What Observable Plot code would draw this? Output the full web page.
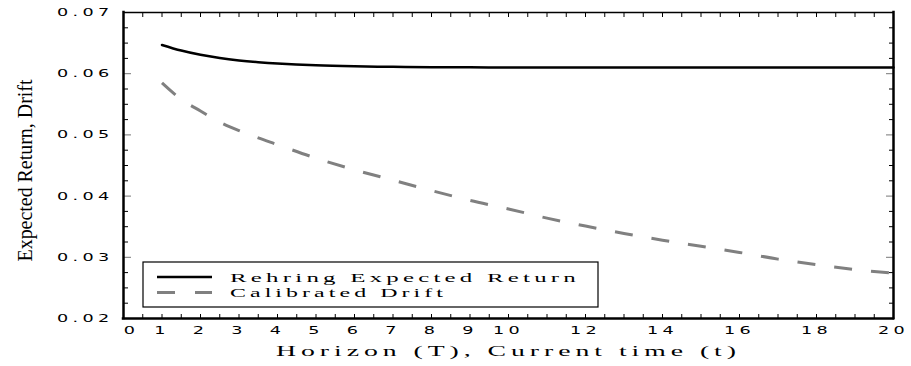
<!DOCTYPE html>
<html><head><meta charset="utf-8">
<script src="https://cdn.jsdelivr.net/npm/d3@7"></script>
<script src="https://cdn.jsdelivr.net/npm/@observablehq/plot@0.6"></script>
<style>
html,body{margin:0;padding:0;background:#fff;}
</style>
</head><body>
<div id="chart"></div>
<script>
const horizon = [1, 1.5, 2, 2.5, 3, 3.5, 4, 5, 6, 7, 8, 9, 10, 11, 12, 13, 14, 15, 16, 17, 18, 19, 20];
const rehringReturn = [0.0647, 0.06378, 0.06308, 0.06256, 0.06217, 0.06188, 0.06166, 0.06137, 0.06121, 0.06112, 0.06107, 0.06104, 0.06102, 0.06101, 0.0610, 0.0610, 0.0610, 0.0610, 0.0610, 0.0610, 0.0610, 0.0610, 0.0610];
const calibratedDrift = [0.0585, 0.0558, 0.0539, 0.0521, 0.0507, 0.0495, 0.0484, 0.0462, 0.0443, 0.0426, 0.0409, 0.0393, 0.0379, 0.0364, 0.0351, 0.0339, 0.0328, 0.0318, 0.0308, 0.0297, 0.0288, 0.0280, 0.0274];
const seriesNames = ["Rehring Expected Return", "Calibrated Drift"];
const yTickValues = [0.02, 0.03, 0.04, 0.05, 0.06, 0.07];
const yMinorTicks = [0.0225, 0.025, 0.0275, 0.0325, 0.035, 0.0375, 0.0425, 0.045, 0.0475, 0.0525, 0.055, 0.0575, 0.0625, 0.065, 0.0675];
const xTickLabels = [1, 2, 3, 4, 5, 6, 7, 8, 9, 10, 12, 14, 16, 18, 20];
const xZeroLabel = [0];
const xMinorTicks = d3.range(0.5, 20, 0.5);
const xTitle = "Horizon (T), Current time (t)";
const yTitle = "Expected Return, Drift";

const rehRows = horizon.map((t, i) => ({t, v: rehringReturn[i]}));
const driftRows = horizon.map((t, i) => ({t, v: calibratedDrift[i]}));

const tickFont = "'DejaVu Sans', sans-serif";
const serifFont = "'Liberation Serif', serif";

const plot = Plot.plot({
  width: 911, height: 366,
  marginLeft: 123, marginRight: 18, marginTop: 12, marginBottom: 48,
  x: {domain: [0, 20], axis: null},
  y: {domain: [0.02, 0.07], axis: null},
  style: {background: "#fff", color: "#000", fontFamily: tickFont, overflow: "visible"},
  marks: [
    // inward ticks
    Plot.axisY(yMinorTicks, {anchor: "left", tickSize: -5, fill: "none", label: null}),
    Plot.axisY(yTickValues, {anchor: "left", tickSize: -8, fill: "none", label: null, stroke: "#777"}),
    Plot.axisY(yMinorTicks, {anchor: "right", tickSize: -5, fill: "none", label: null}),
    Plot.axisY(yTickValues, {anchor: "right", tickSize: -8, fill: "none", label: null, stroke: "#777"}),
    Plot.axisX(xMinorTicks, {anchor: "bottom", tickSize: -4, fill: "none", label: null}),
    Plot.axisX(xMinorTicks, {anchor: "top", tickSize: -4, fill: "none", label: null}),
    // tick labels
    Plot.axisY(yTickValues, {anchor: "left", tickSize: 0, tickPadding: 10, tickFormat: d3.format(".2f"), fontSize: 11, label: null}),
    Plot.axisX(xTickLabels, {anchor: "bottom", tickSize: 0, tickPadding: 8, tickFormat: d => String(d), fontSize: 11, label: null}),
    Plot.axisX(xZeroLabel, {anchor: "bottom", tickSize: 0, tickPadding: 8, tickFormat: d => String(d), fontSize: 11, label: null, dx: 8}),
    // frame
    Plot.ruleX([0], {strokeWidth: 2.5, strokeLinecap: "square"}),
    Plot.ruleX([20], {strokeWidth: 2.5, strokeLinecap: "square"}),
    Plot.ruleY([0.02], {strokeWidth: 2.5, strokeLinecap: "square"}),
    Plot.ruleY([0.07], {strokeWidth: 1.5}),
    // series
    Plot.line(rehRows, {x: "t", y: "v", stroke: "#000", strokeWidth: 2.5, curve: "catmull-rom"}),
    Plot.line(driftRows, {x: "t", y: "v", stroke: "#808080", strokeWidth: 3, strokeDasharray: "18,19", strokeLinecap: "butt", curve: "catmull-rom"}),
    // titles
    Plot.text([xTitle], {frameAnchor: "bottom", dy: 33, lineAnchor: "middle", textAnchor: "middle", fontFamily: serifFont, fontSize: 14}),
    Plot.text([yTitle], {frameAnchor: "left", dx: -99, dy: 5, rotate: -90, lineAnchor: "middle", textAnchor: "middle", fontFamily: serifFont, fontSize: 22})
  ]
});

const svg = d3.select(plot);
// stretch tick labels horizontally like the original plotter font
svg.selectAll('g[aria-label="y-axis tick label"] text, g[aria-label="x-axis tick label"] text').each(function() {
  const s = d3.select(this);
  s.attr("transform", (s.attr("transform") || "") + " scale(1.6,1)").style("letter-spacing", "2.7px");
});
svg.selectAll("text").filter(function() { return this.textContent === xTitle; })
  .style("letter-spacing", "2.5px").attr("textLength", 465).attr("lengthAdjust", "spacingAndGlyphs");
svg.selectAll("text").filter(function() { return this.textContent === yTitle; })
  .attr("textLength", 182).attr("lengthAdjust", "spacingAndGlyphs");

// legend
const lg = svg.append("g").attr("aria-label", "legend").attr("text-anchor", "start");
lg.append("rect").attr("x", 143).attr("y", 262).attr("width", 455).attr("height", 45)
  .attr("fill", "#fff").attr("stroke", "#000").attr("stroke-width", 1.2);
lg.append("line").attr("x1", 157).attr("x2", 212).attr("y1", 277).attr("y2", 277)
  .attr("stroke", "#000").attr("stroke-width", 2.5);
lg.append("line").attr("x1", 157).attr("x2", 212).attr("y1", 292.5).attr("y2", 292.5)
  .attr("stroke", "#808080").attr("stroke-width", 3).attr("stroke-dasharray", "18,20");
const legendWidths = [350, 217];
seriesNames.forEach((name, i) => {
  lg.append("text").attr("x", 230).attr("y", 282 + i * 15.3).text(name)
    .attr("text-anchor", "start")
    .attr("font-family", serifFont).attr("font-size", 13.5)
    .style("letter-spacing", "2.3px")
    .attr("textLength", legendWidths[i]).attr("lengthAdjust", "spacingAndGlyphs")
    .attr("fill", "#000");
});

document.getElementById("chart").appendChild(plot);
</script>
</body></html>
